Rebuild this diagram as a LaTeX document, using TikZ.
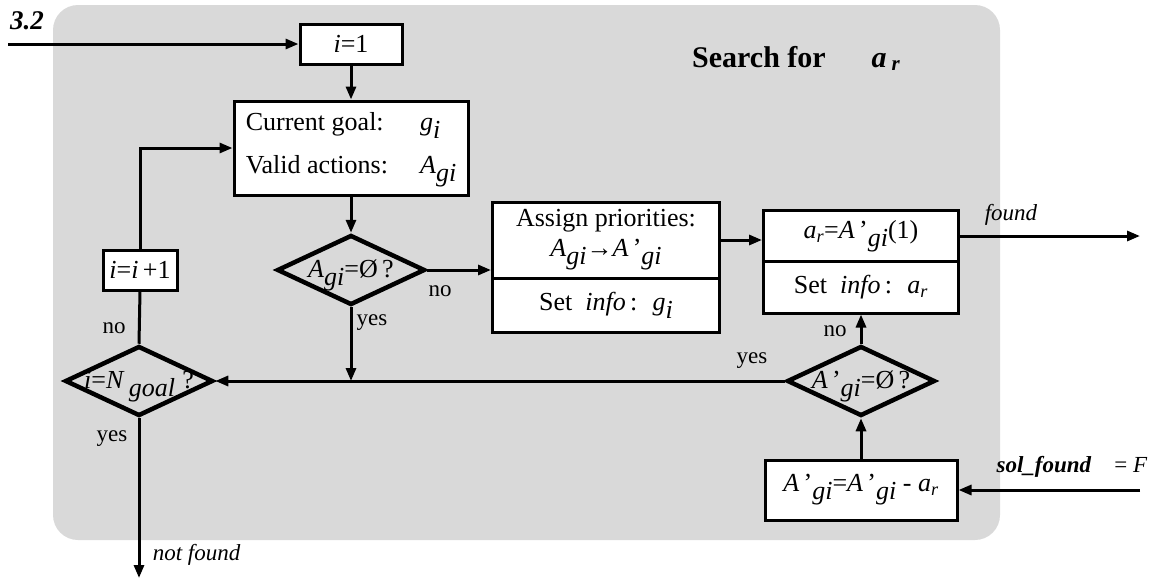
\documentclass[tikz,border=0pt]{standalone}
\usepackage{fontspec}
\setmainfont{Liberation Serif}
\usetikzlibrary{arrows.meta,shapes.geometric}
\definecolor{panel}{HTML}{D9D9D9}
\newcommand{\lowr}[1]{\raisebox{-0.3em}{\itshape #1}}
\newcommand{\nosize}[1]{\makebox[0pt]{\smash{\raisebox{-0.3em}{#1}}}}

\begin{document}
\begin{tikzpicture}[x=1pt,y=-1pt,line width=3pt,>={Triangle[length=13pt,width=10pt]},
  box/.style={draw,fill=white,inner sep=0pt,font=\fontsize{26}{30}\selectfont},
  dia/.style={draw,diamond,line width=4.5pt,inner sep=0pt,minimum width=148pt,minimum height=70pt,font=\fontsize{26}{30}\selectfont},
  lbl/.style={font=\fontsize{23}{26}\selectfont}]
  \useasboundingbox (0,0) rectangle (1152,581);
  % panel
  \fill[panel,rounded corners=25pt] (53,5) rectangle (1000,540);
  \node[font=\bfseries\itshape\fontsize{27}{30}\selectfont] (sec) at (27,21) {3.2};
  \node[font=\bfseries\fontsize{30}{34}\selectfont] (title) at (759,57) {Search for};
  \node[font=\bfseries\fontsize{30}{34}\selectfont] (titlevar) at (886,62) {\textit{a}\,\textsubscript{\textit{r}}};
  % boxes
  \node[box,minimum width=102pt,minimum height=40pt] (init) at (351,44) {\textit{i}=1};
  \node[box,minimum width=234pt,minimum height=94pt] (goal) at (351,148)
    {\begin{tabular}{@{}l@{\hspace{32pt}}l@{}}Current goal: & \textit{g}\lowr{i}\\[13pt] Valid actions: & \textit{A}\lowr{gi}\end{tabular}};
  \node[box,minimum width=74pt,minimum height=40pt] (incr) at (140,270) {\textit{i}=\textit{i}\,+1};
  \node[box,minimum width=227pt,minimum height=76pt,align=center] (prio) at (606,240)
    {Assign priorities:\\ \textit{A}\lowr{gi}\textbf{→}\textit{A}\,’\lowr{gi}};
  \node[box,minimum width=227pt,minimum height=54pt] (prioinfo) at (606,305) {Set \ \textit{info}\,: \ \textit{g}\lowr{i}};
  \node[box,minimum width=195pt,minimum height=51pt] (pick) at (861,236)
    {\textit{a}\textsubscript{\textit{r}}=\textit{A}\,’\lowr{gi}(1)};
  \node[box,minimum width=195pt,minimum height=52pt] (pickinfo) at (861,287) {Set \ \textit{info}\,: \ \textit{a}\textsubscript{\textit{r}}};
  \node[box,minimum width=192pt,minimum height=60pt] (remove) at (861,490)
    {\textit{A}\,’\lowr{gi}=\textit{A}\,’\lowr{gi} - \textit{a}\textsubscript{\textit{r}}};
  % decisions
  \node[dia] (emptyA) at (351,270) {\nosize{\textit{A}\lowr{gi}=Ø\,?}};
  \node[dia] (emptyB) at (861,381) {\nosize{\textit{A}\,’\lowr{gi}=Ø\,?}};
  \node[dia] (last) at (139,381) {\nosize{\textit{i}=\textit{N}\,\lowr{goal}\;?}};
  % free ends
  \coordinate (entry) at (8,44);
  \coordinate (found) at (1140,236);
  \coordinate (solin) at (1140,490);
  \coordinate (notfound) at (139,578);
  % flow
  \draw[->] (entry) -- (init.west);
  \draw[->] (init.south) -- (goal.north);
  \draw[->] (goal.south) -- (emptyA.north);
  \draw[->] (emptyA.east) -- (emptyA.east -| prio.west);
  \draw[->] (prio.east) -- (prio.east -| pick.west);
  \draw[->] (pick.east) -- (found);
  \draw[->] (solin) -- (remove.east);
  \draw[->] (remove.north) -- (emptyB.south);
  \draw[->] (emptyB.north) -- (pickinfo.south);
  \draw[->] (emptyB.west) -- (last.east);
  \draw[->] (emptyA.south) -- (emptyA.south |- last.east);
  \draw (last.north) -- (incr.south);
  \draw[->] (incr.north) |- (goal.west);
  \draw[->] (last.south) -- (notfound);
  % labels
  \node[lbl] (noA) at (440,291) {no};
  \node[lbl] (yesA) at (372,323) {yes};
  \node[lbl] (yesB) at (752,361) {yes};
  \node[lbl] (noB) at (835,331) {no};
  \node[lbl] (noL) at (114,328) {no};
  \node[lbl] (yesL) at (112,439) {yes};
  \node[lbl,anchor=west] (nf) at (148,555) {\textit{not found}};
  \node[lbl] (fd) at (1011,215) {\textit{found}};
  \node[lbl] (sol) at (1072,467) {\textbf{\textit{sol\_found}}\quad= \textit{F}};
\end{tikzpicture}
\end{document}
